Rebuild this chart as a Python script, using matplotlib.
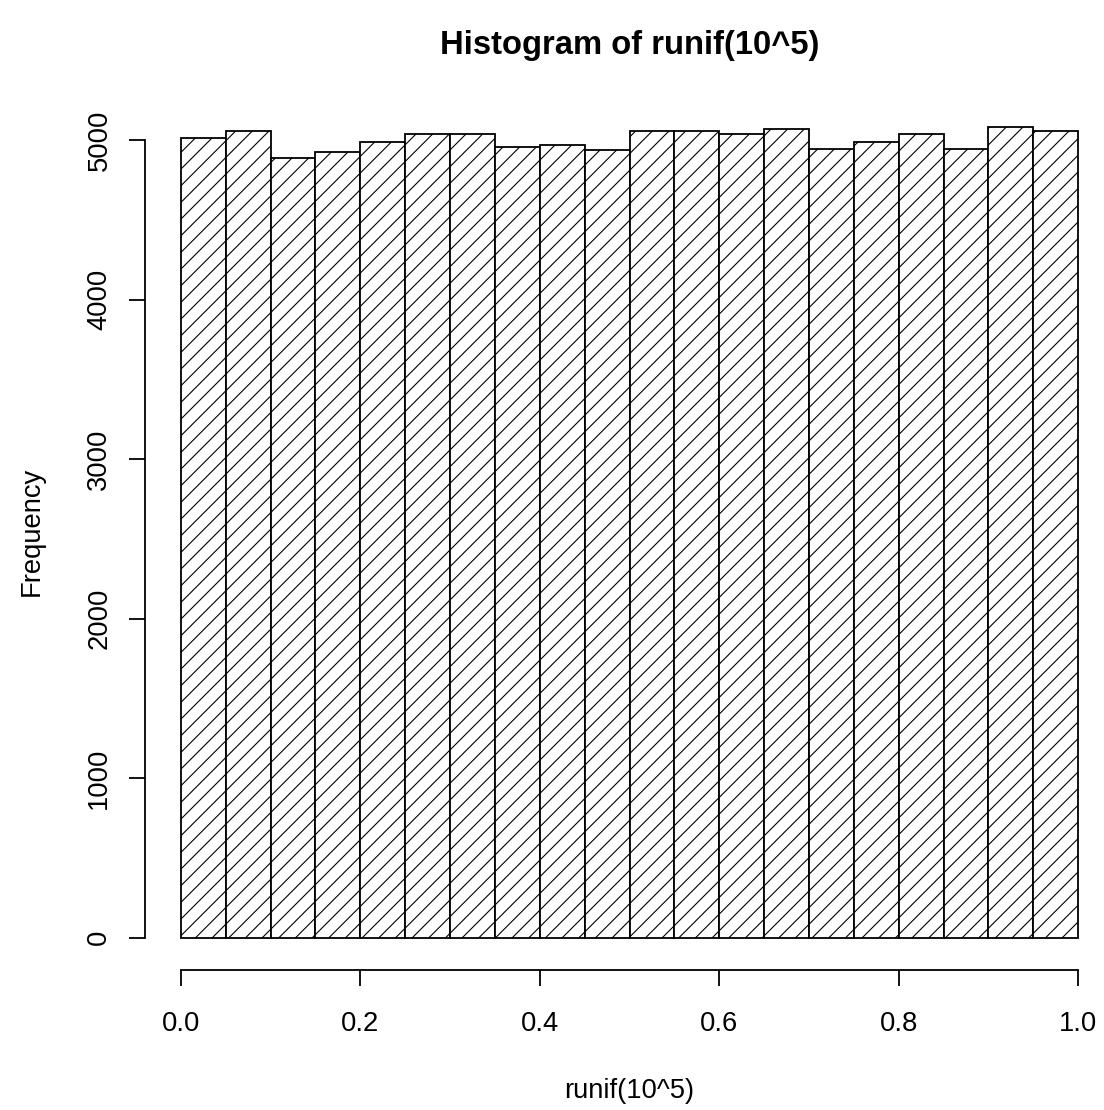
import numpy as np
import matplotlib
matplotlib.use("Agg")
import matplotlib.pyplot as plt

# histogram of runif(10^5): 20 bins of width 0.05, counts
bin_left = [0.00, 0.05, 0.10, 0.15, 0.20, 0.25, 0.30, 0.35, 0.40, 0.45,
            0.50, 0.55, 0.60, 0.65, 0.70, 0.75, 0.80, 0.85, 0.90, 0.95]
counts = [5011, 5056, 4889, 4923, 4989, 5036, 5036, 4954, 4969, 4935,
          5055, 5055, 5036, 5067, 4945, 4989, 5036, 4945, 5080, 5055]
bin_width = 0.05

x_ticks = [0.0, 0.2, 0.4, 0.6, 0.8, 1.0]
x_ticklabels = ["0.0", "0.2", "0.4", "0.6", "0.8", "1.0"]
y_ticks = [0, 1000, 2000, 3000, 4000, 5000]

plt.rcParams['font.family'] = ['Liberation Sans', 'DejaVu Sans']
plt.rcParams['hatch.linewidth'] = 0.8

W, H = 1104, 1110
fig = plt.figure(figsize=(W / 100, H / 100), dpi=100)
# plot region like R: left edge at 145 px, right edge a bit beyond the image
ax = fig.add_axes([145 / W, (H - 970) / H, (1114 - 145) / W, (970 - 94.9) / H])

ax.bar(bin_left, counts, width=bin_width, align='edge', color='white',
       edgecolor='black', linewidth=1.3, hatch='//')

ax.set_xlim(-0.04, 1.04)
ax.set_ylim(-0.04 * max(counts), 1.04 * max(counts))

for s in ['top', 'right']:
    ax.spines[s].set_visible(False)
ax.spines['bottom'].set_bounds(0, 1)
ax.spines['left'].set_bounds(0, 5000)
ax.spines['bottom'].set_linewidth(1.3)
ax.spines['left'].set_linewidth(1.3)

ax.set_xticks(x_ticks)
ax.set_xticklabels(x_ticklabels)
ax.set_yticks(y_ticks)
ax.set_yticklabels([str(v) for v in y_ticks], rotation=90, va='center')
ax.tick_params(axis='both', direction='out', length=11.5, width=1.3,
               labelsize=19.7, colors='black')
ax.tick_params(axis='x', pad=18)
ax.tick_params(axis='y', pad=12)

ax.set_title("Histogram of runif(10^5)", fontsize=23.6, fontweight='bold', pad=29.5)

ax.set_xlabel("runif(10^5)", fontsize=19.7)
ax.xaxis.label.set_va('baseline')
ax.xaxis.set_label_coords(629.5 / W, 1 - 1098 / H, transform=fig.transFigure)

ax.set_ylabel("Frequency", fontsize=19.7)
ax.yaxis.label.set_va('baseline')
ax.yaxis.set_label_coords(39 / W, 1 - 531.5 / H, transform=fig.transFigure)

fig.savefig("out.png", dpi=100)
